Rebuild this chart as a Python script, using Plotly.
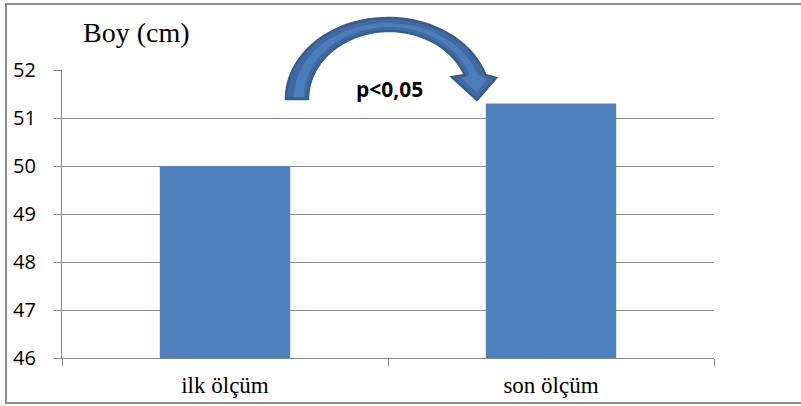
import math
import plotly.graph_objects as go

# Measurements (Boy, cm)
categories = ["ilk ölçüm", "son ölçüm"]
values = [50.0, 51.3]
y_ticks = [46, 47, 48, 49, 50, 51, 52]
title_text = "Boy (cm)"
p_text = "p<0,05"

W, H = 801, 406
L, R, T, B = 62, 87, 70, 48
PW, PH = W - L - R, H - T - B

GRID = "#868686"
BAR = "#4F81BD"


def px(x):
    """pixel x -> paper x"""
    return (x - L) / PW


def py(y):
    """pixel y -> paper y"""
    return (H - B - y) / PH


def ellipse_pts(cx, cy, rx, ry, t0, t1, n=60):
    pts = []
    for i in range(n + 1):
        t = math.radians(t0 + (t1 - t0) * i / n)
        pts.append((cx + rx * math.cos(t), cy - ry * math.sin(t)))
    return pts


def to_path(pts):
    s = "M {:.5f},{:.5f}".format(px(pts[0][0]), py(pts[0][1]))
    for x, y in pts[1:]:
        s += " L {:.5f},{:.5f}".format(px(x), py(y))
    return s + " Z"


def curved_arrow(cx, cy, rxo, ryo, rxi, ryi, end_dy, head):
    to = math.degrees(math.asin(end_dy / ryo))
    ti = math.degrees(math.asin(end_dy / ryi))
    outer = ellipse_pts(cx, cy, rxo, ryo, 180, to)
    inner = ellipse_pts(cx + 1, cy, rxi, ryi, ti, 180)
    return outer + head + inner


fig = go.Figure()
fig.add_trace(go.Bar(
    x=categories, y=values, width=0.4,
    marker=dict(color=BAR, line=dict(width=0)),
    hoverinfo="skip",
))

# curved arrow between the bars
arrow = curved_arrow(388, 99, 102, 81, 81, 68, 24,
                     [(496, 78), (477, 100), (452, 77)])
band = curved_arrow(388, 97, 94, 74, 85, 70, 22,
                     [(487, 79), (477, 93), (462, 78)])

shapes = [
    # outer frame
    dict(type="rect", xref="paper", yref="paper",
         x0=px(6), x1=px(812), y0=py(403), y1=py(4),
         line=dict(color="#8C8C8C", width=2), fillcolor="rgba(0,0,0,0)",
         layer="below"),
    dict(type="path", xref="paper", yref="paper", path=to_path(arrow),
         fillcolor="#3F6AA3", line=dict(color="#385D8A", width=2.5),
         layer="above"),
    dict(type="path", xref="paper", yref="paper", path=to_path(band),
         fillcolor="#4C7DBB", line=dict(width=0), layer="above"),
]

annotations = [
    dict(text=title_text, xref="paper", yref="paper",
         x=px(81), y=py(33), xanchor="left", yanchor="middle",
         showarrow=False,
         font=dict(family="Liberation Serif", size=28, color="black")),
    dict(text="<b>" + p_text + "</b>", xref="paper", yref="paper",
         x=px(389), y=py(89), xanchor="center", yanchor="middle",
         showarrow=False,
         font=dict(family="Open Sans", size=21, color="black")),
]

fig.update_layout(
    width=W, height=H,
    margin=dict(l=L, r=R, t=T, b=B, pad=0),
    paper_bgcolor="white", plot_bgcolor="white",
    showlegend=False,
    shapes=shapes,
    annotations=annotations,
    bargap=0.6,
)

fig.update_xaxes(
    type="category", range=[-0.5, 1.5],
    showline=True, linecolor=GRID, linewidth=1.3,
    ticks="outside", tickson="boundaries", ticklen=7,
    tickcolor=GRID, tickwidth=1.3,
    showgrid=False, zeroline=False, automargin=False,
    ticklabelstandoff=6,
    tickfont=dict(family="Liberation Serif", size=23, color="black"),
)

fig.update_yaxes(
    range=[46, 52], tickvals=y_ticks,
    showline=True, linecolor=GRID, linewidth=1.3,
    ticks="outside", ticklen=8, tickcolor=GRID, tickwidth=1.3,
    showgrid=True, gridcolor=GRID, gridwidth=1.3,
    zeroline=False, automargin=False,
    ticklabelstandoff=13,
    tickfont=dict(family="Open Sans", size=20, color="black"),
)

fig.write_html("out.html")
